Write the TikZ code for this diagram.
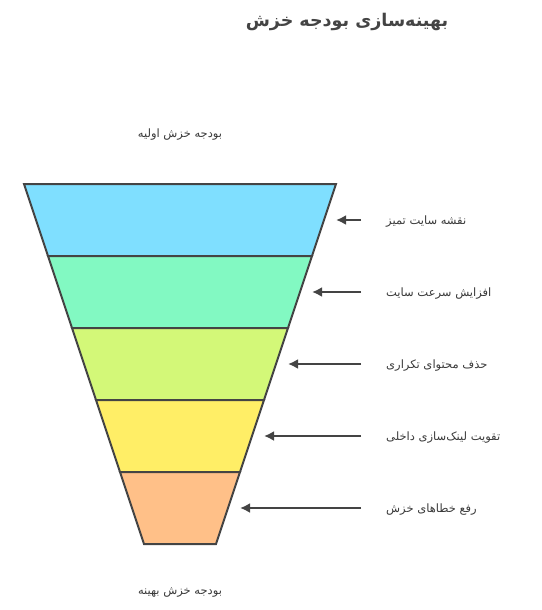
\documentclass[tikz,border=0pt]{standalone}
\usepackage{fontspec}
\newfontfamily\farsifont[Script=Arabic]{DejaVu Sans}
\TeXXeTstate=1
\usetikzlibrary{arrows.meta}

\definecolor{edgegray}{HTML}{444444}
\definecolor{textgray}{HTML}{3A3A3A}
\definecolor{layerA}{HTML}{7FDFFF}
\definecolor{layerB}{HTML}{82F9C2}
\definecolor{layerC}{HTML}{D3F878}
\definecolor{layerD}{HTML}{FFEE66}
\definecolor{layerE}{HTML}{FFC088}

\tikzset{
  layer/.style={draw=edgegray, line width=2pt},
  steplabel/.style={font=\farsifont\fontsize{11.5}{13}\selectfont, text=textgray, anchor=west, inner sep=0pt},
  endlabel/.style={font=\farsifont\fontsize{11.5}{13}\selectfont, text=textgray, inner sep=0pt},
  pointer/.style={-{Latex[length=10pt,width=10pt]}, draw=edgegray, line width=2pt}
}

\begin{document}
\begin{tikzpicture}[x=1pt, y=-1pt]
    \useasboundingbox (0,0) rectangle (541,610);

    % Titre
    \node[font=\farsifont\bfseries\fontsize{17.5}{20}\selectfont, text=edgegray] (title) at (347,22) {\beginR بهینه‌سازی بودجه خزش\endR};

    % Entrée et sortie de l'entonnoir
    \node[endlabel] (start) at (180,135) {\beginR بودجه خزش اولیه\endR};
    \node[endlabel] (finish) at (180,593) {\beginR بودجه خزش بهینه\endR};

    % Couches de l'entonnoir + flèches
    \foreach \i/\col/\txt in {0/layerA/{نقشه سایت تمیز},
                              1/layerB/{افزایش سرعت سایت},
                              2/layerC/{حذف محتوای تکراری},
                              3/layerD/{تقویت لینک‌سازی داخلی},
                              4/layerE/{رفع خطاهای خزش}} {
        \coordinate (tl\i) at ({24+24*\i}, {184+72*\i});
        \coordinate (tr\i) at ({336-24*\i}, {184+72*\i});
        \coordinate (bl\i) at ({48+24*\i}, {256+72*\i});
        \coordinate (br\i) at ({312-24*\i}, {256+72*\i});
        \filldraw[layer, fill=\col] (tl\i) -- (tr\i) -- (br\i) -- (bl\i) -- cycle;

        \node[steplabel] (lbl\i) at (386, {222+72*\i}) {\beginR\txt\endR};
        \coordinate (tail\i) at (361, {220+72*\i});
        \coordinate (tip\i) at ({336-24*\i}, {220+72*\i});
        \draw[pointer] (tail\i) -- (tip\i);
    }
\end{tikzpicture}
\end{document}
